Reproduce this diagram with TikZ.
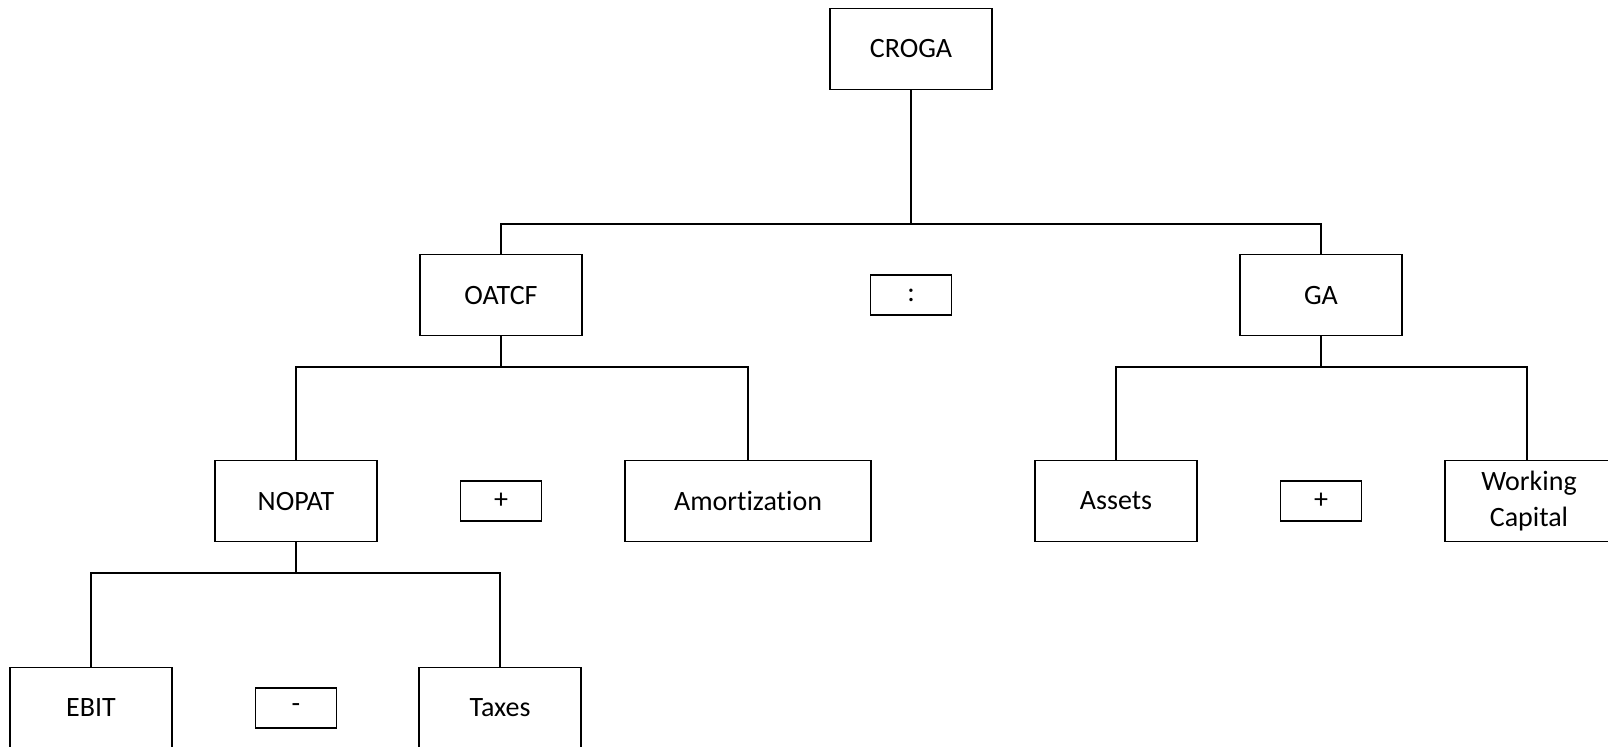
\documentclass[tikz,border=0pt]{standalone}
\usepackage{fontspec}
\setmainfont{Carlito}[Ligatures=NoCommon]
\usepackage{tikz}
\usetikzlibrary{positioning}
\usetikzlibrary{calc}

\begin{document}
\begin{tikzpicture}[x=0.5pt, y=0.5pt]
	\tikzstyle{box}=[draw, line width=0.9pt, minimum width=81pt, minimum height=40.5pt, inner sep=2pt, align=center, font=\fontsize{14}{18}\selectfont]
	\tikzstyle{wide box}=[box, minimum width=123pt]
	\tikzstyle{op box}=[box, minimum width=40.5pt, minimum height=20pt]
	\tikzstyle{link}=[line width=0.9pt]
	\useasboundingbox (0,0) rectangle (1608,-746);

	% top level
	\node[box] (croga) at (911,-49) {CROGA};
	\node[box] (oatcf) at (501,-295) {OATCF};
	\node[box] (ga) at (1321,-295) {GA};
	\node[op box] (divide) at (croga |- oatcf) {:};

	% second level
	\node[box] (nopat) at (296,-501) {NOPAT};
	\node[wide box] (amort) at (748,-501) {Amortization};
	\node[op box] (plusA) at (oatcf |- nopat) {+};
	\node[box] (assets) at (1116,-501) {Assets};
	\node[box, minimum width=84pt] (capital) at (1529,-501) {Working\\Capital};
	\node[op box] (plusB) at (ga |- assets) {+};

	% third level
	\node[box] (ebit) at (91,-708) {EBIT};
	\node[box] (taxes) at (500,-708) {Taxes};
	\node[op box] (minus) at (nopat |- ebit) {-};

	\coordinate (crogaFork) at (911,-224);
	\coordinate (oatcfFork) at (501,-367);
	\coordinate (gaFork) at (1321,-367);
	\coordinate (nopatFork) at (296,-573);

	\draw[link] (croga) -- (crogaFork);
	\draw[link] (oatcf) |- (crogaFork) -| (ga);
	\draw[link] (oatcf) -- (oatcfFork);
	\draw[link] (nopat) |- (oatcfFork) -| (amort);
	\draw[link] (ga) -- (gaFork);
	\draw[link] (assets) |- (gaFork) -| ([xshift=-1pt]capital.north);
	\draw[link] (nopat) -- (nopatFork);
	\draw[link] (ebit) |- (nopatFork) -| (taxes);
\end{tikzpicture}
\end{document}
